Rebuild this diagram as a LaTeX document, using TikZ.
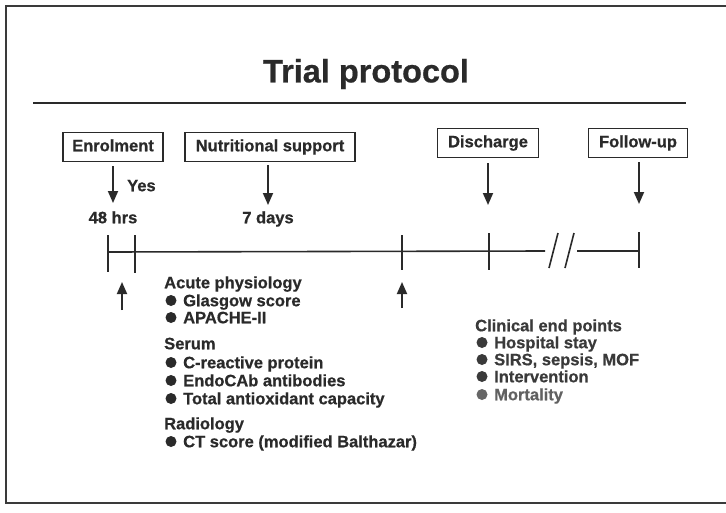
\documentclass[tikz,border=0pt]{standalone}
\usepackage{fontspec}
\setmainfont{Liberation Sans}[BoldFeatures={FakeBold=0.6}]
\usetikzlibrary{arrows.meta}
\definecolor{ink}{HTML}{2A2A2A}
\definecolor{inkb}{HTML}{3A3A3A}
\definecolor{inkg}{HTML}{666666}
\begin{document}
\begin{tikzpicture}[x=1pt,y=-1pt,
  every node/.style={font=\fontsize{16.5}{18}\selectfont\bfseries, text=ink, inner sep=0pt, text height=12pt, text depth=3.5pt},
  labelbox/.style={draw=ink, line width=1.4pt, minimum height=29pt, inner xsep=8pt},
  darrow/.style={draw=ink, line width=1.8pt, -{Triangle[width=10pt,length=12pt]}},
  tl/.style={draw=ink, line width=1.6pt},
  txt/.style={anchor=west},
  bul/.style={circle, fill=ink, minimum size=11pt, inner sep=0pt, text height=, text depth=}]
\useasboundingbox (0,0) rectangle (726,512);
\fill[white] (0,0) rectangle (726,512);
% frame
\draw[draw=inkb, line width=1.6pt] (726,6) -- (6,6) -- (6,503) -- (726,503);
% title
\node[text height=, text depth=] (title) at (366,74) {\fontsize{32.5}{36}\selectfont\bfseries Trial protocol};
\coordinate (r1) at (33,103);
\coordinate (r2) at (686,103);
\draw[draw=ink, line width=2.6pt] (r1) -- (r2);
% boxes
\node[labelbox, minimum width=100pt] (enrol) at (113,147) {Enrolment};
\node[labelbox, minimum width=170pt] (nutr) at (270,147) {Nutritional support};
\node[labelbox, minimum width=101pt] (disc) at (488,143) {Discharge};
\node[labelbox, minimum width=99pt] (foll) at (638,143) {Follow-up};
% time labels
\node (h48) at (113,219) {48 hrs};
\node (d7) at (268,219) {7 days};
\node[txt] (yes) at (127,187) {Yes};
% down arrows
\coordinate (a1e) at (113,203);
\coordinate (a2s) at (268,165);
\coordinate (a2e) at (268,205);
\coordinate (a3s) at (488,163);
\coordinate (a3e) at (488,205);
\coordinate (a4s) at (639,162);
\coordinate (a4e) at (639,204);
\draw[darrow] ([yshift=-4pt]enrol.south) -- (a1e);
\draw[darrow] (a2s) -- (a2e);
\draw[darrow] (a3s) -- (a3e);
\draw[darrow] (a4s) -- (a4e);
% timeline
\coordinate (t0) at (108,252);
\coordinate (b1) at (545,251);
\coordinate (b2) at (577,251);
\coordinate (t4) at (639,251);
\draw[tl] (t0) -- (b1);
\draw[tl] (b2) -- (t4);
\draw[tl] (108,235) -- (108,272);
\draw[tl] (135,235) -- (135,273);
\draw[tl] (402,235) -- (402,270);
\draw[tl] (489,233) -- (489,270);
\draw[tl] (639,232) -- (639,268);
\draw[tl] (549,268) -- (558,233);
\draw[tl] (565,268) -- (574,233);
% up arrows
\coordinate (u1s) at (122,310);
\coordinate (u1e) at (122,282);
\coordinate (u2s) at (402,308);
\coordinate (u2e) at (402,282);
\draw[darrow] (u1s) -- (u1e);
\draw[darrow] (u2s) -- (u2e);
% left measurements
\node[txt] (acute) at (164,284) {Acute physiology};
\node[bul] (bg) at (171,300.5) {};
\node[txt] (glas) at (183,302) {Glasgow score};
\node[bul] (ba) at (171,317.5) {};
\node[txt] (apac) at (183,319) {APACHE-II};
\node[txt] (serum) at (164,345) {Serum};
\node[bul] (bc) at (171,362.5) {};
\node[txt] (crp) at (183,364) {C-reactive protein};
\node[bul] (be) at (171,380.5) {};
\node[txt] (endo) at (183,382) {EndoCAb antibodies};
\node[bul] (bt) at (171,398.5) {};
\node[txt] (tac) at (183,400) {Total antioxidant capacity};
\node[txt] (radio) at (164,425) {Radiology};
\node[bul] (bct) at (171,441.5) {};
\node[txt] (ct) at (183,443) {CT score (modified Balthazar)};
% right: clinical end points
\node[txt, text=inkb] (clin) at (475,327) {Clinical end points};
\node[bul, fill=inkb] (bh) at (482,342.5) {};
\node[txt, text=inkb] (hosp) at (494,344) {Hospital stay};
\node[bul, fill=inkb] (bs) at (482,359.5) {};
\node[txt, text=inkb] (sirs) at (494,361) {SIRS, sepsis, MOF};
\node[bul, fill=inkb] (bi) at (482,376.5) {};
\node[txt, text=inkb] (inter) at (494,378) {Intervention};
\node[bul, fill=inkg] (bm) at (482,394.5) {};
\node[txt, text=inkb!80] (mort) at (494,396) {Mortality};
\end{tikzpicture}
\end{document}
